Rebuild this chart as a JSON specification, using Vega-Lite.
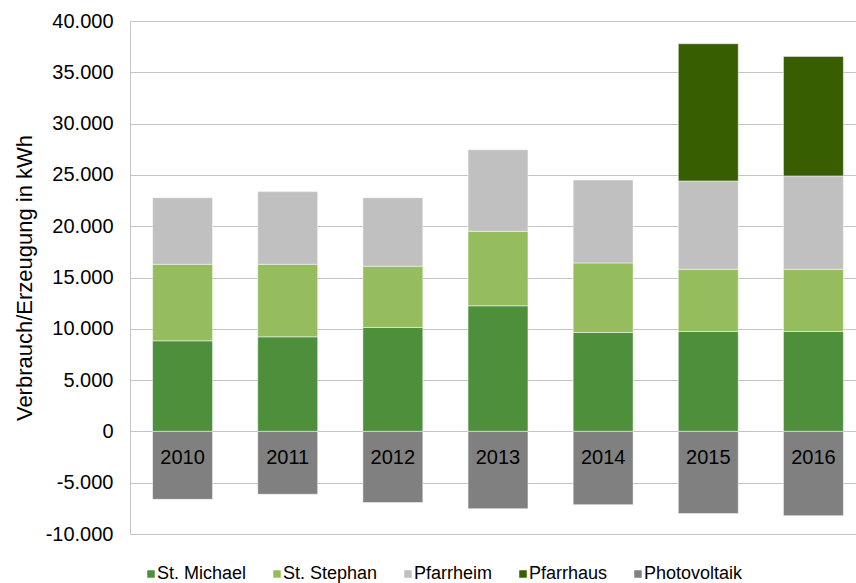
{
  "$schema": "https://vega.github.io/schema/vega-lite/v6.json",
  "autosize": {"type": "none"},
  "width": 726,
  "height": 513,
  "padding": {"left": 130, "top": 21, "right": 0, "bottom": 49},
  "background": "#ffffff",
  "config": {
    "font": "Liberation Sans",
    "view": {"stroke": null},
    "locale": {"number": {"decimal": ",", "thousands": ".", "grouping": [3], "currency": ["", " €"], "minus": "-"}}
  },
  "data": {
    "values": [
      {"year": "2010", "quelle": "St. Michael", "kwh": 8830, "ord": 1},
      {"year": "2010", "quelle": "St. Stephan", "kwh": 7460, "ord": 2},
      {"year": "2010", "quelle": "Pfarrheim", "kwh": 6490, "ord": 3},
      {"year": "2010", "quelle": "Photovoltaik", "kwh": -6620, "ord": 5},
      {"year": "2011", "quelle": "St. Michael", "kwh": 9220, "ord": 1},
      {"year": "2011", "quelle": "St. Stephan", "kwh": 7070, "ord": 2},
      {"year": "2011", "quelle": "Pfarrheim", "kwh": 7080, "ord": 3},
      {"year": "2011", "quelle": "Photovoltaik", "kwh": -6130, "ord": 5},
      {"year": "2012", "quelle": "St. Michael", "kwh": 10130, "ord": 1},
      {"year": "2012", "quelle": "St. Stephan", "kwh": 5970, "ord": 2},
      {"year": "2012", "quelle": "Pfarrheim", "kwh": 6680, "ord": 3},
      {"year": "2012", "quelle": "Photovoltaik", "kwh": -6940, "ord": 5},
      {"year": "2013", "quelle": "St. Michael", "kwh": 12240, "ord": 1},
      {"year": "2013", "quelle": "St. Stephan", "kwh": 7260, "ord": 2},
      {"year": "2013", "quelle": "Pfarrheim", "kwh": 7960, "ord": 3},
      {"year": "2013", "quelle": "Photovoltaik", "kwh": -7530, "ord": 5},
      {"year": "2014", "quelle": "St. Michael", "kwh": 9640, "ord": 1},
      {"year": "2014", "quelle": "St. Stephan", "kwh": 6780, "ord": 2},
      {"year": "2014", "quelle": "Pfarrheim", "kwh": 8080, "ord": 3},
      {"year": "2014", "quelle": "Photovoltaik", "kwh": -7140, "ord": 5},
      {"year": "2015", "quelle": "St. Michael", "kwh": 9740, "ord": 1},
      {"year": "2015", "quelle": "St. Stephan", "kwh": 6060, "ord": 2},
      {"year": "2015", "quelle": "Pfarrheim", "kwh": 8610, "ord": 3},
      {"year": "2015", "quelle": "Pfarrhaus", "kwh": 13370, "ord": 4},
      {"year": "2015", "quelle": "Photovoltaik", "kwh": -8010, "ord": 5},
      {"year": "2016", "quelle": "St. Michael", "kwh": 9740, "ord": 1},
      {"year": "2016", "quelle": "St. Stephan", "kwh": 6060, "ord": 2},
      {"year": "2016", "quelle": "Pfarrheim", "kwh": 9100, "ord": 3},
      {"year": "2016", "quelle": "Pfarrhaus", "kwh": 11650, "ord": 4},
      {"year": "2016", "quelle": "Photovoltaik", "kwh": -8210, "ord": 5}
    ]
  },
  "mark": {"type": "bar", "stroke": "#ffffff", "strokeWidth": 0.8, "strokeOpacity": 0.6},
  "encoding": {
    "x": {
      "field": "year",
      "type": "nominal",
      "scale": {"paddingInner": 0.43, "paddingOuter": 0.215, "range": [0, 736]},
      "axis": {
        "title": null,
        "orient": "bottom",
        "domain": false,
        "ticks": false,
        "labelAngle": 0,
        "labelPadding": -87,
        "labelFontSize": 20,
        "labelColor": "#000000",
        "labelBaseline": "top",
        "zindex": 2
      }
    },
    "y": {
      "field": "kwh",
      "type": "quantitative",
      "stack": "zero",
      "scale": {"domain": [-10000, 40000], "nice": false},
      "axis": {
        "title": "Verbrauch/Erzeugung  in kWh",
        "titleFontSize": 22,
        "titleFontWeight": "normal",
        "titleColor": "#000000",
        "titlePadding": 9,
        "values": [-10000, -5000, 0, 5000, 10000, 15000, 20000, 25000, 30000, 35000, 40000],
        "format": ",.0f",
        "labelFontSize": 20,
        "labelColor": "#000000",
        "labelPadding": 17,
        "ticks": false,
        "domain": true,
        "domainColor": "#c4c4c4",
        "domainWidth": 1,
        "grid": true,
        "gridColor": "#c4c4c4",
        "gridWidth": 1,
        "zindex": 0
      }
    },
    "color": {
      "field": "quelle",
      "type": "nominal",
      "scale": {
        "domain": ["St. Michael", "St. Stephan", "Pfarrheim", "Pfarrhaus", "Photovoltaik"],
        "range": ["#4e8f3c", "#95bd5e", "#c0c0c0", "#375e00", "#808080"]
      },
      "legend": {
        "title": null,
        "orient": "none",
        "legendX": 12,
        "legendY": 544,
        "direction": "horizontal",
        "columns": 5,
        "columnPadding": 21,
        "symbolType": "square",
        "symbolSize": 56,
        "symbolStrokeWidth": 0,
        "labelFontSize": 18,
        "labelColor": "#000000",
        "labelOffset": -3
      }
    },
    "order": {"field": "ord", "type": "quantitative"}
  }
}
